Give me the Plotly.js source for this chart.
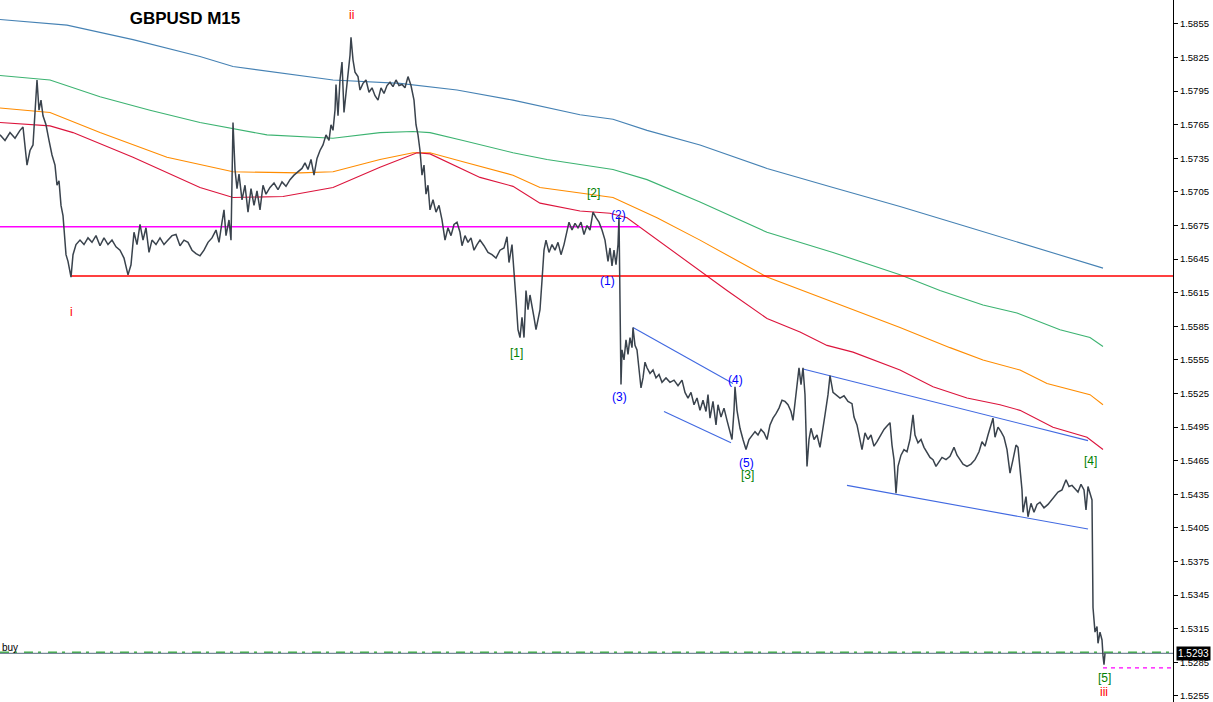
<!DOCTYPE html>
<html>
<head>
<meta charset="utf-8">
<script src="https://cdn.plot.ly/plotly-3.0.1.min.js"></script>
<style>html,body{margin:0;padding:0;background:#fff}#chart{width:1213px;height:702px}</style>
</head>
<body>
<div id="chart"></div>
<script>
// ---- data (bar index, price) ----
const priceX = [0,5,10,15,20,23,27,30,33,37,39,41,43,46,49,52,55,57,59,61,63,64,66,68,71,73,76,80,84,88,92,96,100,104,108,112,116,120,124,128,131,134,137,140,143,146,149,152,156,160,164,168,172,176,180,184,188,192,196,200,204,208,212,216,219,222,224,226,229,231,233,235,237,239,242,245,248,251,254,257,260,263,266,270,274,278,282,286,290,294,298,302,305,308,311,314,317,320,323,326,329,331,333,335,336,338,340,342,344,346,348,350,351,353,355,358,360,363,366,369,372,375,378,381,384,387,390,393,396,399,402,405,408,411,414,416,418,420,422,424,426,428,430,433,436,439,442,445,448,451,454,457,460,462,465,468,471,474,477,480,484,488,492,496,500,504,507,509,512,514,516,518,520,522,524,526,528,530,532,534,536,538,540,542,544,546,549,552,555,558,561,564,567,569,572,575,578,581,584,587,590,593,596,599,602,605,608,610,612,614,616,618,619,620,621,622,624,626,628,630,632,633,635,637,639,641,643,645,647,650,653,656,659,662,666,670,674,678,682,685,688,691,694,697,700,703,706,708,710,713,716,718,721,724,727,730,732,734,735,737,740,743,746,749,752,755,758,761,764,767,770,773,776,779,782,785,788,791,793,795,797,799,801,803,805,807,809,811,814,817,820,823,825,828,830,833,836,840,844,848,852,854,857,860,862,865,868,871,874,877,880,884,887,890,892,894,896,898,901,904,907,910,913,915,918,921,924,927,930,933,936,939,942,946,950,954,957,960,963,967,971,975,979,982,985,988,991,993,995,998,1001,1004,1007,1010,1013,1016,1018,1020,1022,1023,1026,1028,1031,1034,1037,1040,1044,1048,1052,1055,1058,1062,1066,1069,1072,1075,1078,1081,1084,1086,1088,1090,1092,1093,1094,1095,1097,1098,1100,1102,1103,1104,1105];
const priceY = [1.5756,1.5751,1.5758,1.5753,1.5760,1.5763,1.5729,1.5742,1.5747,1.5805,1.5778,1.5787,1.5773,1.5765,1.5751,1.5738,1.5729,1.5711,1.5715,1.5693,1.5684,1.5671,1.5649,1.5643,1.5629,1.5649,1.5658,1.5662,1.5658,1.5664,1.5660,1.5666,1.5657,1.5664,1.5658,1.5662,1.5656,1.5653,1.5646,1.5631,1.5640,1.5669,1.5658,1.5676,1.5662,1.5673,1.5651,1.5662,1.5658,1.5664,1.5658,1.5662,1.5666,1.5667,1.5657,1.5662,1.5660,1.5653,1.5650,1.5648,1.5653,1.5660,1.5664,1.5671,1.5660,1.5678,1.5689,1.5666,1.5680,1.5662,1.5767,1.5725,1.5708,1.5721,1.5698,1.5711,1.5687,1.5708,1.5693,1.5706,1.5689,1.5711,1.5703,1.5709,1.5713,1.5707,1.5714,1.5710,1.5716,1.5720,1.5723,1.5726,1.5731,1.5725,1.5734,1.5720,1.5735,1.5742,1.5747,1.5756,1.5751,1.5765,1.5760,1.5778,1.5801,1.5773,1.5805,1.5821,1.5776,1.5792,1.5814,1.5827,1.5843,1.5823,1.5812,1.5808,1.5796,1.5802,1.5805,1.5794,1.5798,1.5791,1.5787,1.5798,1.5793,1.5800,1.5803,1.5799,1.5805,1.5800,1.5801,1.5798,1.5808,1.5800,1.5787,1.5765,1.5756,1.5742,1.5720,1.5729,1.5703,1.5711,1.5689,1.5698,1.5687,1.5693,1.5680,1.5662,1.5673,1.5666,1.5676,1.5678,1.5669,1.5657,1.5666,1.5660,1.5664,1.5653,1.5658,1.5662,1.5657,1.5651,1.5649,1.5646,1.5653,1.5655,1.5665,1.5642,1.5658,1.5637,1.5609,1.5582,1.5575,1.5593,1.5575,1.5617,1.5600,1.5613,1.5604,1.5593,1.5582,1.5591,1.5600,1.5626,1.5653,1.5662,1.5651,1.5658,1.5653,1.5660,1.5649,1.5658,1.5669,1.5678,1.5671,1.5677,1.5673,1.5678,1.5667,1.5675,1.5671,1.5687,1.5682,1.5678,1.5671,1.5662,1.5643,1.5655,1.5639,1.5653,1.5640,1.5658,1.5683,1.5609,1.5533,1.5564,1.5555,1.5573,1.5560,1.5575,1.5566,1.5584,1.5568,1.5564,1.5546,1.5530,1.5539,1.5553,1.5548,1.5543,1.5546,1.5539,1.5542,1.5535,1.5539,1.5535,1.5537,1.5532,1.5537,1.5526,1.5521,1.5526,1.5515,1.5521,1.5510,1.5519,1.5509,1.5524,1.5503,1.5518,1.5497,1.5515,1.5504,1.5512,1.5501,1.5491,1.5484,1.5510,1.5531,1.5510,1.5494,1.5484,1.5475,1.5484,1.5487,1.5491,1.5488,1.5493,1.5490,1.5484,1.5497,1.5503,1.5507,1.5512,1.5519,1.5518,1.5515,1.5509,1.5501,1.5515,1.5530,1.5548,1.5533,1.5548,1.5524,1.5460,1.5484,1.5494,1.5484,1.5488,1.5477,1.5497,1.5506,1.5524,1.5541,1.5526,1.5524,1.5521,1.5523,1.5518,1.5516,1.5504,1.5497,1.5484,1.5475,1.5490,1.5484,1.5488,1.5478,1.5482,1.5487,1.5493,1.5496,1.5499,1.5479,1.5466,1.5436,1.5460,1.5470,1.5475,1.5473,1.5484,1.5506,1.5488,1.5481,1.5484,1.5477,1.5473,1.5468,1.5466,1.5460,1.5464,1.5468,1.5466,1.5469,1.5477,1.5470,1.5466,1.5462,1.5460,1.5462,1.5466,1.5473,1.5482,1.5478,1.5488,1.5497,1.5503,1.5486,1.5495,1.5491,1.5486,1.5475,1.5454,1.5466,1.5479,1.5477,1.5461,1.5439,1.5419,1.5433,1.5415,1.5427,1.5419,1.5426,1.5428,1.5423,1.5426,1.5430,1.5434,1.5437,1.5439,1.5448,1.5442,1.5443,1.5440,1.5437,1.5444,1.5439,1.5421,1.5442,1.5436,1.5430,1.5334,1.5325,1.5312,1.5317,1.5302,1.5312,1.5305,1.5291,1.5283,1.5293];

// moving averages
const maBlueX = [0,67,133,200,233,300,333,400,457,513,580,613,647,700,767,833,900,967,1033,1083,1103];
const maBlueY = [1.5859,1.5854,1.5841,1.5826,1.5817,1.5809,1.5805,1.5802,1.5796,1.5787,1.5774,1.5770,1.5760,1.5747,1.5726,1.5709,1.5692,1.5674,1.5656,1.5642,1.5637];
const maGreenX = [0,50,100,150,200,267,333,380,413,430,463,513,547,613,647,700,767,833,900,940,983,1017,1060,1090,1103];
const maGreenY = [1.5809,1.5805,1.5790,1.5778,1.5767,1.5756,1.5753,1.5758,1.5759,1.5758,1.5751,1.5740,1.5734,1.5725,1.5716,1.5696,1.5669,1.5651,1.5631,1.5617,1.5604,1.5597,1.5582,1.5575,1.5567];
const maOrangeX = [0,50,100,167,233,300,333,380,413,430,463,513,540,580,613,657,700,767,833,900,950,983,1020,1047,1090,1103];
const maOrangeY = [1.5780,1.5776,1.5758,1.5736,1.5723,1.5722,1.5723,1.5734,1.5740,1.5740,1.5732,1.5720,1.5709,1.5704,1.5700,1.5682,1.5662,1.5629,1.5607,1.5584,1.5566,1.5555,1.5546,1.5534,1.5524,1.5515];
const maRedX = [0,50,73,133,200,233,283,333,380,417,430,480,513,540,580,610,627,700,727,767,800,827,853,900,933,967,1000,1020,1053,1087,1103];
const maRedY = [1.5767,1.5764,1.5758,1.5736,1.5709,1.5700,1.5701,1.5709,1.5727,1.5740,1.5739,1.5718,1.5710,1.5695,1.5688,1.5686,1.5682,1.5634,1.5617,1.5592,1.5580,1.5568,1.5562,1.5546,1.5531,1.5521,1.5515,1.5510,1.5495,1.5486,1.5475];

// channel lines [start, end]
const chanX = [[633,733],[664,731],[803,1088],[847,1088]];
const chanY = [[1.5584,1.5534],[1.5509,1.5481],[1.5547,1.5483],[1.5443,1.5404]];

// horizontal levels
const levelMagenta = 1.5674, levelMagentaX = [0,640];
const levelRed = 1.5630, levelRedX = [71,1173];
const bidPrice = 1.5293;
const buyPrice = 1.5294;
const targetPrice = 1.5280, targetX = [1103,1173];

// wave labels
const waveText = ['ii','i','iii','[1]','[2]','[3]','[4]','[5]','(1)','(2)','(3)','(4)','(5)'];
const waveX = [351,71,1104,516,593,747,1090,1104,607,618,619,735,746];
const waveY = [1.5863,1.5598,1.52585,1.5561,1.5704,1.5452,1.5465,1.5271,1.56255,1.5684,1.5522,1.5537,1.5463];
const waveColor = ['#FF0000','#FF0000','#FF0000','#008000','#008000','#008000','#008000','#008000','#0000FF','#0000FF','#0000FF','#0000FF','#0000FF'];

// y ticks
const tickVals = [1.5255,1.5285,1.5315,1.5345,1.5375,1.5405,1.5435,1.5465,1.5495,1.5525,1.5555,1.5585,1.5615,1.5645,1.5675,1.5705,1.5735,1.5765,1.5795,1.5825,1.5855];

// ---- traces ----
const traces = [];
function line(x, y, color, width, dash) {
  traces.push({x: x, y: y, type: 'scatter', mode: 'lines', hoverinfo: 'skip',
    line: {color: color, width: width, dash: dash || 'solid'}});
}
line(maBlueX, maBlueY, '#4682B4', 1.1);
line(maGreenX, maGreenY, '#3CB371', 1.1);
line(maOrangeX, maOrangeY, '#FF8C00', 1.1);
line(maRedX, maRedY, '#DC143C', 1.1);
line(levelMagentaX, [levelMagenta, levelMagenta], '#FF00FF', 1.4);
line(levelRedX, [levelRed, levelRed], '#FF0000', 1.4);
chanX.forEach((cx, i) => line(cx, chanY[i], '#4169E1', 1.1));
line([0,1173], [buyPrice, buyPrice], '#3CB043', 1.6, '9px,5px,3px,7px');
line([0,1173], [bidPrice, bidPrice], '#778899', 1.2);
line(targetX, [targetPrice, targetPrice], '#FF00FF', 1.2, '4px,4px');
line(priceX, priceY, '#3a434d', 1.5);

const annotations = waveText.map((t, i) => ({
  x: waveX[i], y: waveY[i], xref: 'x', yref: 'y', text: t, showarrow: false,
  xanchor: 'center', yanchor: 'middle',
  font: {family: 'Liberation Sans, Arial, sans-serif', size: 12, color: waveColor[i]}
}));
annotations.push({x: 0, y: 1.5298, xref: 'x', yref: 'y', text: 'buy', showarrow: false,
  xanchor: 'left', yanchor: 'middle', font: {family: 'Liberation Sans, Arial, sans-serif', size: 10, color: '#000'}});
annotations.push({x: 1, xref: 'paper', y: bidPrice, yref: 'y', text: '1.5293', showarrow: false,
  xanchor: 'left', yanchor: 'middle', xshift: 3, bgcolor: '#000000', borderpad: 1,
  font: {family: 'Liberation Sans, Arial, sans-serif', size: 10, color: '#FFFFFF'}});

const layout = {
  width: 1213, height: 702,
  margin: {l: 0, r: 40, t: 0, b: 0, pad: 0},
  paper_bgcolor: '#FFFFFF', plot_bgcolor: '#FFFFFF',
  showlegend: false,
  title: {text: '<b>GBPUSD M15</b>', x: 185/1213, xref: 'container', xanchor: 'center',
    y: 1 - 18/702, yref: 'container', yanchor: 'middle',
    font: {family: 'Liberation Sans, Arial, sans-serif', size: 17, color: '#000'}},
  xaxis: {range: [0, 1173], showgrid: false, zeroline: false, showticklabels: false,
    showline: false, ticks: '', fixedrange: true},
  yaxis: {range: [1.52496, 1.58764], side: 'right', showgrid: false, zeroline: false,
    tickmode: 'array', tickvals: tickVals, ticktext: tickVals.map(v => v.toFixed(4)),
    ticks: 'outside', ticklen: 4, tickcolor: '#000', tickwidth: 1,
    showline: true, linecolor: '#000', linewidth: 1, mirror: false,
    tickfont: {family: 'Liberation Sans, Arial, sans-serif', size: 9.5, color: '#000'},
    fixedrange: true},
  annotations: annotations
};

Plotly.newPlot('chart', traces, layout, {displayModeBar: false, staticPlot: true});
</script>
</body>
</html>
